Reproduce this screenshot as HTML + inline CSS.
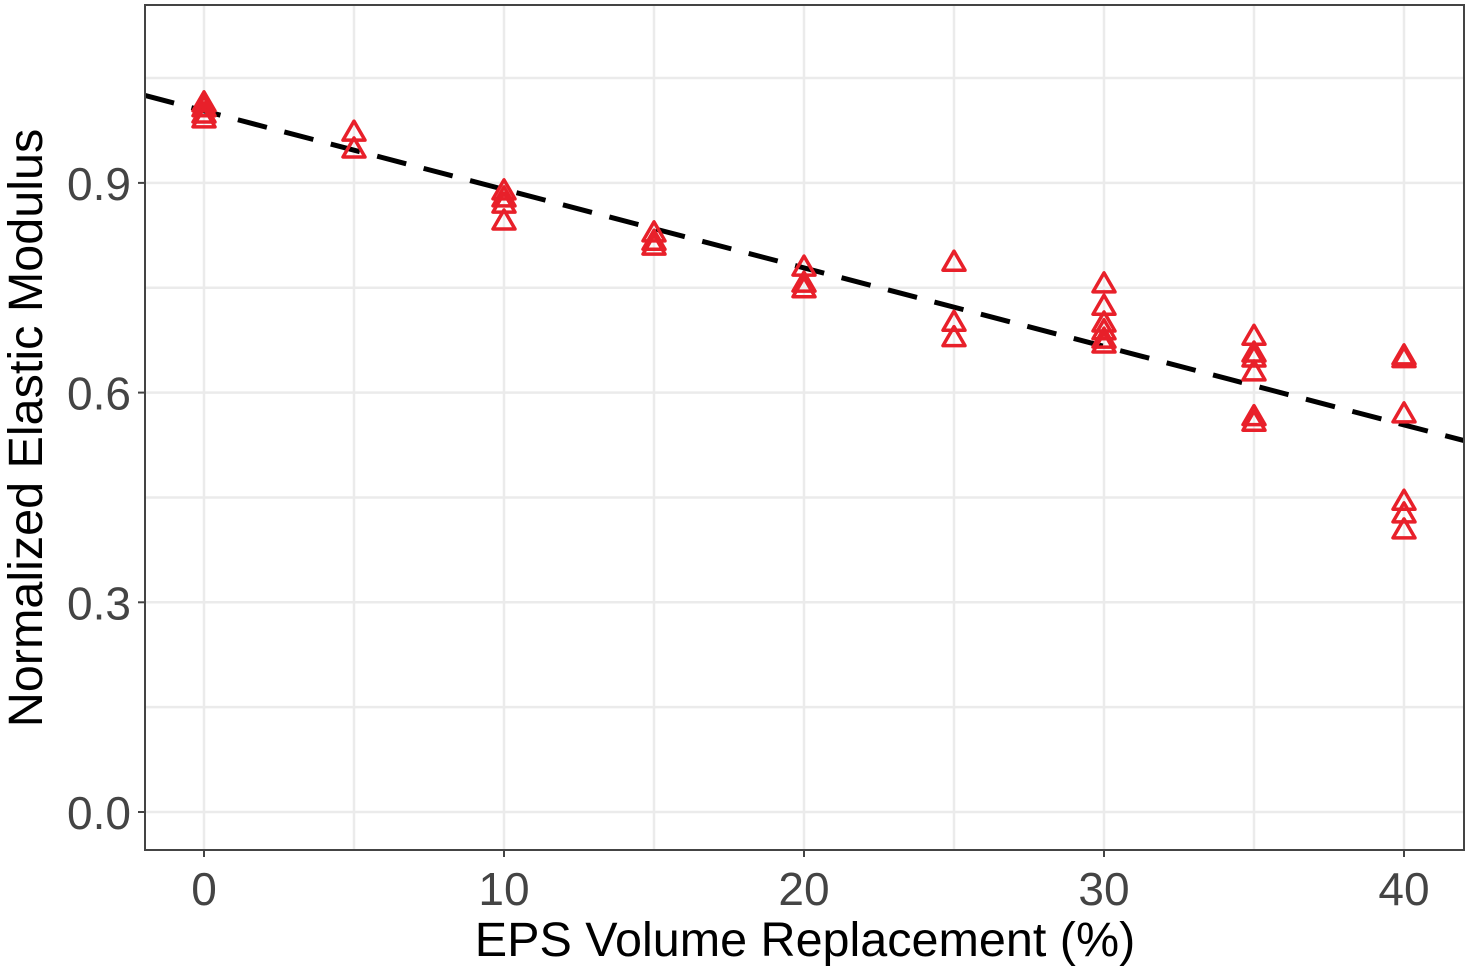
<!DOCTYPE html>
<html><head><meta charset="utf-8"><style>
html,body{margin:0;padding:0;background:#fff;}
svg{display:block;font-family:"Liberation Sans",Arial,sans-serif;}
</style></head><body>
<svg id="chart" width="1470" height="971" viewBox="0 0 1470 971">
<g id="grid"></g>
<line id="trend" stroke="#000" stroke-width="5" stroke-dasharray="30,18"/>
<g id="points"></g>
<rect x="145" y="5" width="1319" height="845" fill="none" stroke="#444" stroke-width="2"/>
<g id="axes"></g>
<text x="805" y="956" font-size="48.5" text-anchor="middle" fill="#000">EPS Volume Replacement (%)</text>
<text transform="translate(42,428) rotate(-90)" font-size="48.5" text-anchor="middle" fill="#000">Normalized Elastic Modulus</text>
</svg>
<script>
const xCats = [0, 5, 10, 15, 20, 25, 30, 35, 40];
const yValues = [
  [1.016, 1.009, 1.0, 0.993],
  [0.974, 0.95],
  [0.89, 0.88, 0.871, 0.847],
  [0.83, 0.818, 0.811],
  [0.781, 0.758, 0.75],
  [0.788, 0.702, 0.68],
  [0.757, 0.725, 0.701, 0.69, 0.678, 0.671],
  [0.682, 0.658, 0.651, 0.631, 0.567, 0.559],
  [0.654, 0.65, 0.571, 0.446, 0.428, 0.405]
];
const xTicks = [0, 10, 20, 30, 40];
const xMinor = [5, 15, 25, 35];
const yTicks = [0.0, 0.3, 0.6, 0.9];
const yMinor = [0.15, 0.45, 0.75, 1.05];
const trendIntercept = 1.003;
const trendSlope = -0.01123;

const NS = "http://www.w3.org/2000/svg";
const X = v => 204 + v * 30;
const Y = v => 812 - v * 699;
const L = 145, R = 1464, T = 5, B = 850;
function mk(tag, attrs, parent) {
  const e = document.createElementNS(NS, tag);
  for (const k in attrs) e.setAttribute(k, attrs[k]);
  parent.appendChild(e);
  return e;
}
const grid = document.getElementById('grid');
const axes = document.getElementById('axes');
[...xMinor, ...xTicks].forEach(v => {
  const l = mk('line', {x1: X(v), x2: X(v), y1: T, y2: B, stroke: '#ebebeb', 'stroke-width': 2.5}, grid);
  
  
});
[...yMinor, ...yTicks].forEach(v => {
  const l = mk('line', {x1: L, x2: R, y1: Y(v), y2: Y(v), stroke: '#ebebeb', 'stroke-width': 2.5}, grid);
  
  
});
xTicks.forEach(v => {
  const t = mk('line', {x1: X(v), x2: X(v), y1: B, y2: B + 7, stroke: '#444', 'stroke-width': 2}, axes);
  
  
  const tx = mk('text', {x: X(v), y: 905, 'font-size': 46, 'text-anchor': 'middle', fill: '#444'}, axes);
  tx.textContent = String(v);
  
  
});
yTicks.forEach(v => {
  const t = mk('line', {x1: L - 7, x2: L, y1: Y(v), y2: Y(v), stroke: '#444', 'stroke-width': 2}, axes);
  
  
  const tx = mk('text', {x: 131, y: Y(v) + 17, 'font-size': 46, 'text-anchor': 'end', fill: '#444'}, axes);
  tx.textContent = v.toFixed(1);
  
  
});
const trend = document.getElementById('trend');
const x0 = (L - 204) / 30, x1 = (R - 204) / 30;
trend.setAttribute('x1', X(x0));
trend.setAttribute('y1', Y(trendIntercept + trendSlope * x0));
trend.setAttribute('x2', X(x1));
trend.setAttribute('y2', Y(trendIntercept + trendSlope * x1));
const pts = document.getElementById('points');
xCats.forEach((xc, i) => {
  yValues[i].forEach(yv => {
    const cx = X(xc), cy = Y(yv);
    const p = mk('polygon', {points: `${cx},${cy - 10} ${cx - 11},${cy + 9} ${cx + 11},${cy + 9}`, fill: 'none', stroke: '#e8202a', 'stroke-width': 3.5, 'stroke-linejoin': 'round'}, pts);
    
    
  });
});
</script>
</body></html>
